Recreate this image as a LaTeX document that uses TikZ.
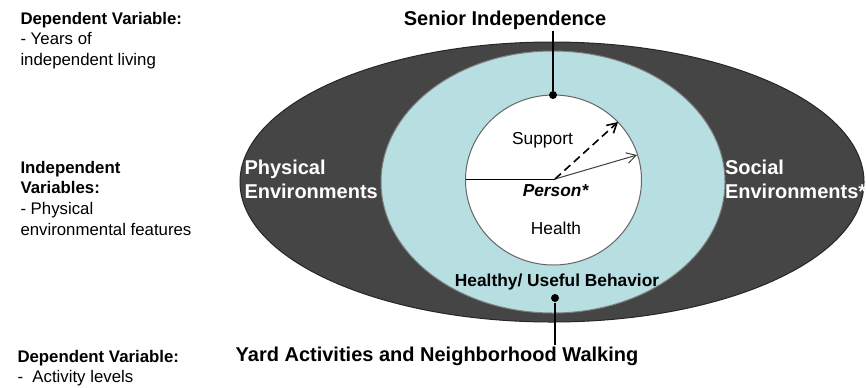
\documentclass[tikz,border=0pt]{standalone}
\usepackage{fontspec}
\setmainfont{Liberation Sans}
\usetikzlibrary{arrows.meta}

\definecolor{envgray}{HTML}{454545}
\definecolor{behavblue}{HTML}{B7DEE1}

\tikzset{every picture/.style={line width=0.75pt}}
\tikzset{
  sidetext/.style={anchor=north west, inner sep=0.75pt, align=left, font=\fontsize{12.6}{15.5}\selectfont},
  envtext/.style={anchor=north west, inner sep=0.75pt, align=left, text=white, font=\bfseries\fontsize{15}{18}\selectfont},
  titletext/.style={anchor=base, inner sep=0.75pt, font=\bfseries\fontsize{15}{18}\selectfont},
  innertext/.style={anchor=base, inner sep=0.75pt, font=\fontsize{13}{15}\selectfont},
  dot/.style={circle, fill=black, inner sep=0pt, minimum size=6pt},
  stem/.style={line width=1.5pt}
}

\begin{document}
\begin{tikzpicture}[x=0.75pt,y=0.75pt,yscale=-1]
\useasboundingbox (0,0) rectangle (866,387);

%Ellipse [environments]
\draw [draw=black!85, fill=envgray] (552,182) ellipse (312 and 140);
%Ellipse [behavior]
\draw [draw=gray, fill=behavblue] (553,182) ellipse (172 and 131);
%Circle [person]
\draw [draw=gray!80!black, fill=white] (553.5,180) ellipse (88 and 85);

%Straight Lines [person axis]
\coordinate (personL) at (465.5,179);
\coordinate (personC) at (555,179);
\coordinate (solidEnd) at (637,155);
\coordinate (dashEnd) at (618,122);
\draw (personL) -- (personC);
\draw [draw=black!75, -{Straight Barb[length=7pt,width=8pt]}] (personC) -- (solidEnd);
\draw [line width=1.2pt, dash pattern=on 6pt off 3.5pt, -{Straight Barb[length=7pt,width=8pt]}] (personC) -- (dashEnd);

%Dots
\node [dot] (topDot) at (553,95) {};
\node [dot] (botDot) at (555,298) {};

% Text Node
\node [titletext] (senior) at (505,25) {Senior Independence};
% Text Node
\node [titletext] (yard) at (437,361) {Yard Activities and Neighborhood Walking};
% Text Node
\node [envtext] (physical) at (243,158) {Physical\\Environments};
% Text Node
\node [envtext] (social) at (723.5,158) {Social\\Environments*};
% Text Node
\node [innertext] (support) at (542.5,144) {Support};
% Text Node
\node [innertext, font=\bfseries\itshape\fontsize{13}{15}\selectfont] (person) at (555.5,196) {Person*};
% Text Node
\node [innertext] (health) at (556,234) {Health};
% Text Node
\node [innertext, font=\bfseries\fontsize{13}{15}\selectfont] (behavior) at (557,286) {Healthy/ Useful Behavior};

% Text Node
\node [sidetext] (depTop) at (19,10.5) {\textbf{Dependent Variable:}\\- Years of\\independent living};
% Text Node
\node [sidetext] (indep) at (19,159.5) {\textbf{Independent}\\\textbf{Variables:}\\- Physical\\environmental features};
% Text Node
\node [sidetext] (depBot) at (16,348.5) {\textbf{Dependent Variable:}\\-\ \ Activity levels};

%Stems
\draw [stem] (senior.south -| topDot) -- (topDot);
\draw [stem] (botDot) -- (botDot |- yard.north);

\end{tikzpicture}
\end{document}
